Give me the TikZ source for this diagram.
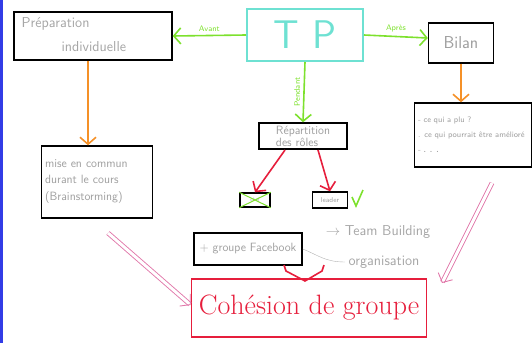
\documentclass[tikz,border=0pt]{standalone}
\usepackage{amsmath}
\usepackage{tikz}
\usetikzlibrary{arrows.meta,calc}
\usepackage{xcolor}
\definecolor{tpcyan}{RGB}{110,225,210}
\definecolor{tpgreen}{RGB}{125,225,45}
\definecolor{tporange}{RGB}{245,145,40}
\definecolor{tpred}{RGB}{230,30,60}
\definecolor{tppink}{RGB}{225,120,170}
\definecolor{tpblue}{RGB}{50,60,230}

\begin{document}
\begin{tikzpicture}[x=1pt,y=-1pt,>={Straight Barb[length=7pt,width=16pt]},semithick,
	box/.style={draw=black,line width=1.4pt,fill=white,font=\sffamily\Large,text=gray!75,inner sep=3pt},
	hand/.style={font=\sffamily\Large,text=gray!70},
	green arrow/.style={->,draw=tpgreen,line width=1.6pt},
	orange arrow/.style={->,draw=tporange,line width=1.6pt},
	red arrow/.style={->,draw=tpred,line width=1.6pt},
	pink arrow/.style={->,draw=tppink,double=white,double distance=3pt,line width=0.9pt}]
		\useasboundingbox (0,0) rectangle (532,343);
		\draw[tpblue,line width=3pt] (1.5,0) -- (1.5,343);

		\node[box,minimum width=158pt,minimum height=48pt] (n1) at (93,36) {};
		\node[hand,anchor=west] at (18,24) {Pr\'eparation};
		\node[hand,anchor=west] at (58,47) {individuelle};
		\node[draw=tpcyan,line width=2pt,minimum width=116pt,minimum height=52pt,text=tpcyan,font=\sffamily\fontsize{40}{40}\selectfont] (n2) at (305,35) {T\hspace{14pt}P};
		\node[box,minimum width=65pt,minimum height=40pt,font=\sffamily\LARGE] (n3) at (461,43) {Bilan};
		\node[box,minimum width=117pt,minimum height=64pt,align=left,text width=110pt,inner sep=2pt,font=\sffamily\footnotesize] (n4) at (473,135)
			{- ce qui a plu ?\\[5pt] . ce qui pourrait \^etre am\'elior\'e\\[6pt] - \textbf{. . .}};
		\node[box,minimum width=111pt,minimum height=72pt,align=left,text width=104pt,inner sep=2pt,font=\sffamily\large] (n5) at (97,182)
			{mise en commun\\[2pt] durant le cours\\[3pt] (Brainstorming)};
		\node[box,minimum width=88pt,minimum height=26pt,align=left,inner sep=1pt,font=\sffamily\fontsize{12}{12}\selectfont] (n6) at (303,136) {R\'epartition\\des r\^oles};
		\node[box,minimum width=30pt,minimum height=14pt,inner sep=1pt,font=\sffamily\tiny] (n7) at (255,200) {chef};
		\node[box,minimum width=35pt,minimum height=16pt,inner sep=1pt,font=\sffamily\scriptsize] (n8) at (330,200) {leader};
		\node[box,minimum width=108pt,minimum height=32pt,font=\sffamily\large] (n9) at (248,249) {+ groupe Facebook};
		\node[hand] (n10) at (378,232) {$\rightarrow$ Team Building};
		\node[hand] (n11) at (384,262) {organisation};
		\node[draw=tpred,line width=1.6pt,minimum width=235pt,minimum height=58pt,text=tpred,font=\fontsize{28}{28}\selectfont] (n12) at (309,308) {Coh\'esion de groupe};

		% arrows from TP
		\draw[green arrow] (n2.west) -- node[above,text=tpgreen,font=\sffamily\footnotesize] {Avant} (n1.east);
		\draw[green arrow] (n2.east) -- node[above,text=tpgreen,font=\sffamily\footnotesize] {Apr\`es} ($(n3.west)+(0,-5)$);
		\draw[green arrow] (n2.south) -- node[rotate=90,anchor=south,text=tpgreen,font=\sffamily\footnotesize] {Pendant} (n6.north);

		\draw[orange arrow] (n1.south -| 88,0) -- (n5.north -| 88,0);
		\draw[orange arrow] (n3.south) -- (n4.north -| n3.south);

		\draw[red arrow] (285,150) -- (n7.north);
		\draw[red arrow] (318,150) -- (n8.north);

		% crossed box and check
		\draw[tpgreen,line width=1pt] (n7.north west) -- (n7.south east) (n7.south west) -- (n7.north east);
		\draw[tpgreen,line width=1.6pt] (352,197) -- (356,206) -- (363,190);

		\draw[gray!60,thin] (n9.east) .. controls (318,255) and (325,262) .. (n11.west);
		\draw[tpred,line width=1.6pt] (284,265) -- (286,271) -- (305,281) -- (322,271) -- (324,265);

		\draw[pink arrow] (108,233) -- (n12.west |- 0,305);
		\draw[pink arrow] (492,183) -- (442,283);
\end{tikzpicture}
\end{document}
